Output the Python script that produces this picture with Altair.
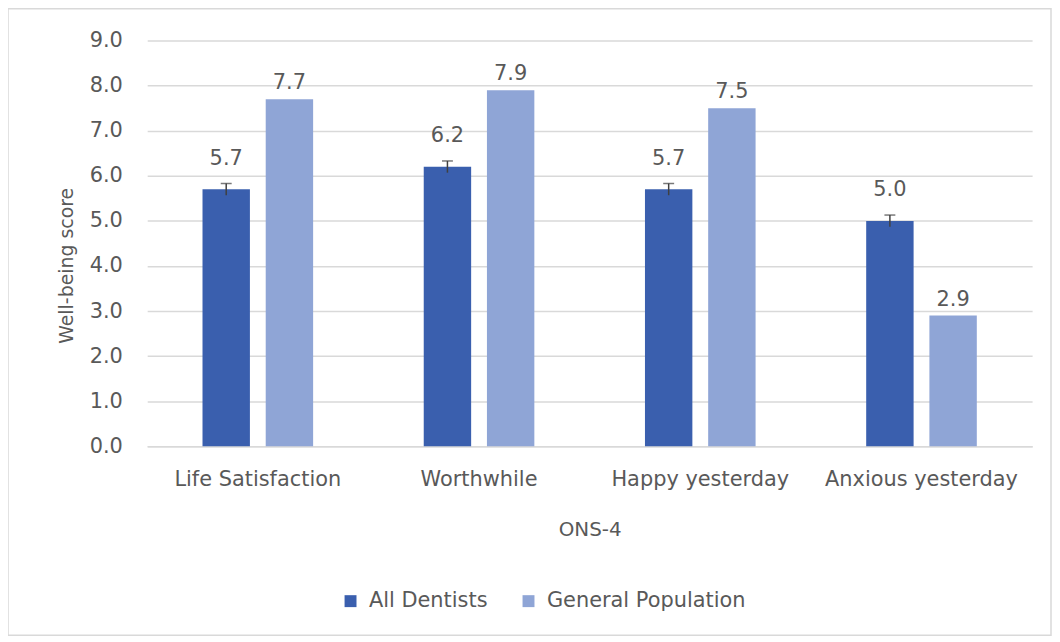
import altair as alt
import pandas as pd

categories = ["Life Satisfaction", "Worthwhile", "Happy yesterday", "Anxious yesterday"]
series = ["All Dentists", "General Population"]
dentists = [5.7, 6.2, 5.7, 5.0]
general = [7.7, 7.9, 7.5, 2.9]
dentist_err = [0.13, 0.13, 0.13, 0.13]
y_ticks = [0, 1, 2, 3, 4, 5, 6, 7, 8, 9]

rows = []
for i, c in enumerate(categories):
    rows.append({"cat": c, "series": series[0], "value": dentists[i],
                 "lo": dentists[i] - dentist_err[i], "hi": dentists[i] + dentist_err[i]})
    rows.append({"cat": c, "series": series[1], "value": general[i],
                 "lo": None, "hi": None})
df = pd.DataFrame(rows)

FONT = "DejaVu Sans"
TXT = "#595959"
colors = ["#3a5fae", "#8fa5d6"]

x_enc = alt.X("cat:N", sort=categories,
              scale=alt.Scale(paddingInner=0.5, paddingOuter=0.25),
              axis=alt.Axis(title="ONS-4", labelAngle=0, labelFontSize=21, labelColor=TXT,
                            labelFont=FONT, titleFont=FONT, titleFontSize=20, titleColor=TXT,
                            titleFontWeight="normal", labelPadding=22, titlePadding=31,
                            labelLimit=0, ticks=False, domainColor="#d9d9d9", domainWidth=1.5))
xoff = alt.XOffset("series:N", sort=series, scale=alt.Scale(paddingInner=0.25, paddingOuter=0))
y_scale = alt.Scale(domain=[0, 9], nice=False)

border = alt.Chart(pd.DataFrame({"a": [0]})).mark_rect(
    fillOpacity=0, stroke="#d9d9d9", strokeWidth=1.5
).encode(x=alt.value(-140), x2=alt.value(909), y=alt.value(-32), y2=alt.value(598))

bars = alt.Chart(df).mark_bar().encode(
    x=x_enc,
    xOffset=xoff,
    y=alt.Y("value:Q", scale=y_scale,
            axis=alt.Axis(title="Well-being score", values=y_ticks, format=".1f",
                          labelFontSize=21, labelColor=TXT, labelFont=FONT,
                          titleFont=FONT, titleFontSize=19, titleColor=TXT,
                          titleFontWeight="normal", labelPadding=25, titlePadding=13,
                          titleY=226,
                          ticks=False, domain=False, gridColor="#d9d9d9", gridWidth=1.5)),
    color=alt.Color("series:N", sort=series, scale=alt.Scale(domain=series, range=colors),
                    legend=alt.Legend(title=None, orient="none", direction="horizontal",
                                      legendX=194, legendY=553, symbolType="square",
                                      symbolSize=144, symbolStrokeWidth=0,
                                      labelFontSize=21, labelFont=FONT, labelColor=TXT,
                                      labelLimit=0, columnPadding=30, labelOffset=8)),
)

err_df = df.dropna()
errs = alt.Chart(err_df).mark_rule(color="#404040", strokeWidth=1.5).encode(
    x=alt.X("cat:N", sort=categories), xOffset=xoff,
    y=alt.Y("lo:Q", scale=y_scale), y2="hi:Q")
caps = alt.Chart(err_df).mark_tick(color="#404040", thickness=1.5, size=11, orient="horizontal").encode(
    x=alt.X("cat:N", sort=categories), xOffset=xoff,
    y=alt.Y("hi:Q", scale=y_scale))

def label_layer(s, dy):
    return alt.Chart(df).transform_filter(alt.datum.series == s).mark_text(
        dy=dy, fontSize=21, font=FONT, color=TXT).encode(
        x=alt.X("cat:N", sort=categories), xOffset=xoff,
        y=alt.Y("value:Q", scale=y_scale),
        text=alt.Text("value:Q", format=".1f"))

labels_d = label_layer(series[0], -31)
labels_g = label_layer(series[1], -16)

chart = alt.layer(border, bars, errs, caps, labels_d, labels_g).properties(
    width=890, height=408,
    autosize=alt.AutoSizeParams(type="none"),
    padding={"left": 140, "top": 31, "right": 20, "bottom": 190},
).configure_view(stroke=None)

chart.save("out.html", embed_options={"renderer": "svg", "actions": False})
